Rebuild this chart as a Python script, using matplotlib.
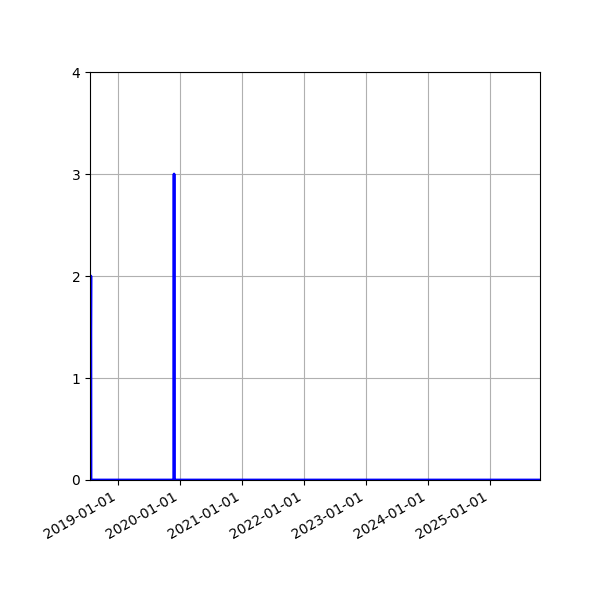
import matplotlib
matplotlib.use("Agg")
import matplotlib.pyplot as plt
import matplotlib.dates as mdates
import numpy as np
import pandas as pd

# key points of the daily series (all other days are 0)
dates = ["2018-07-20", "2018-07-25", "2018-07-26", "2019-11-26", "2019-11-27", "2019-11-28", "2025-10-21"]
values = [0, 2, 0, 0, 3, 0, 0]

x = pd.to_datetime(dates)

fig, ax = plt.subplots(figsize=(6, 6), dpi=100)
ax.plot(x, values, color="blue", linewidth=2)
ax.set_xlim(x[0], x[-1])
ax.set_ylim(0, 4)
ax.set_yticks([0, 1, 2, 3, 4])
ax.xaxis.set_major_locator(mdates.YearLocator())
ax.xaxis.set_major_formatter(mdates.DateFormatter("%Y-%m-%d"))
ax.grid(True)
fig.autofmt_xdate()
fig.subplots_adjust(left=0.15, right=0.9, top=0.88, bottom=0.2)
fig.savefig("out.png")
